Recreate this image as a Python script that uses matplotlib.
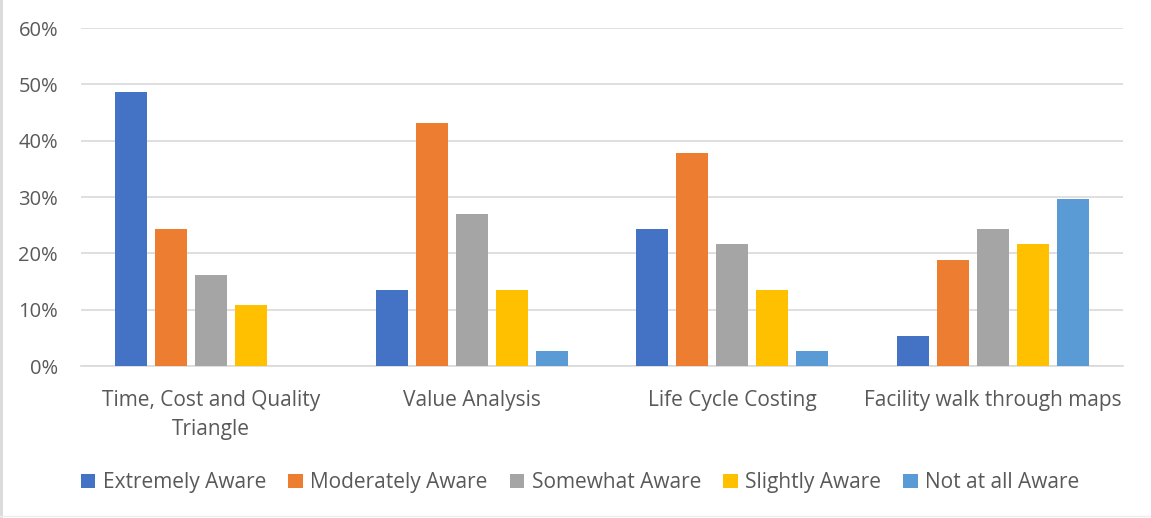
import matplotlib.pyplot as plt
import numpy as np
from matplotlib.ticker import PercentFormatter

plt.rcParams['font.family'] = ['Open Sans', 'DejaVu Sans']

categories = ["Time, Cost and Quality\nTriangle", "Value Analysis",
              "Life Cycle Costing", "Facility walk through maps"]
series_names = ["Extremely Aware", "Moderately Aware", "Somewhat Aware",
                "Slightly Aware", "Not at all Aware"]
extremely = [48.6, 13.5, 24.3, 5.4]
moderately = [24.3, 43.2, 37.8, 18.9]
somewhat = [16.2, 27.0, 21.6, 24.3]
slightly = [10.8, 13.5, 13.5, 21.6]
not_at_all = [0.0, 2.7, 2.7, 29.7]
colors = ["#4472C4", "#ED7D31", "#A5A5A5", "#FFC000", "#5B9BD5"]

values = [extremely, moderately, somewhat, slightly, not_at_all]
text_col = "#595959"

fig = plt.figure(figsize=(11.51, 5.18), dpi=100)
ax = fig.add_axes([0.0704, 0.2934, 0.9053, 0.6525])

x = np.arange(len(categories))
pitch = 0.1536
width = 0.1228
for i, (name, vals) in enumerate(zip(series_names, values)):
    ax.bar(x + (i - 2) * pitch, vals, width, color=colors[i], label=name, zorder=3)

ax.set_xlim(-0.5, len(categories) - 0.5)
ax.set_ylim(0, 60)
ax.set_yticks(range(0, 61, 10))
ax.yaxis.set_major_formatter(PercentFormatter(decimals=0))
ax.grid(axis='y', color='#D9D9D9', linewidth=1.2, zorder=0)
for s in ['top', 'right', 'left']:
    ax.spines[s].set_visible(False)
ax.spines['bottom'].set_color('#D9D9D9')
ax.spines['bottom'].set_linewidth(1.2)
ax.set_xticks(x)
ax.set_xticklabels(categories, linespacing=1.5)
ax.tick_params(length=0, labelcolor=text_col)
ax.tick_params(axis='x', pad=17, labelsize=15)
ax.tick_params(axis='y', pad=16.5, labelsize=14.5)

ax.legend(loc='center', bbox_to_anchor=(0.479, -0.345), ncol=5, frameon=False,
          fontsize=15, labelcolor=text_col, handlelength=0.7, handleheight=0.7,
          handletextpad=0.35, columnspacing=1.07)

# chart-area outline (left and bottom visible)
fig.add_artist(plt.Line2D([0.001, 0.001], [0, 1], transform=fig.transFigure,
                          color='#D9D9D9', linewidth=2))
fig.add_artist(plt.Line2D([0, 1], [0.004, 0.004], transform=fig.transFigure,
                          color='#EEEEEE', linewidth=1))

fig.savefig("out.png", dpi=100)
